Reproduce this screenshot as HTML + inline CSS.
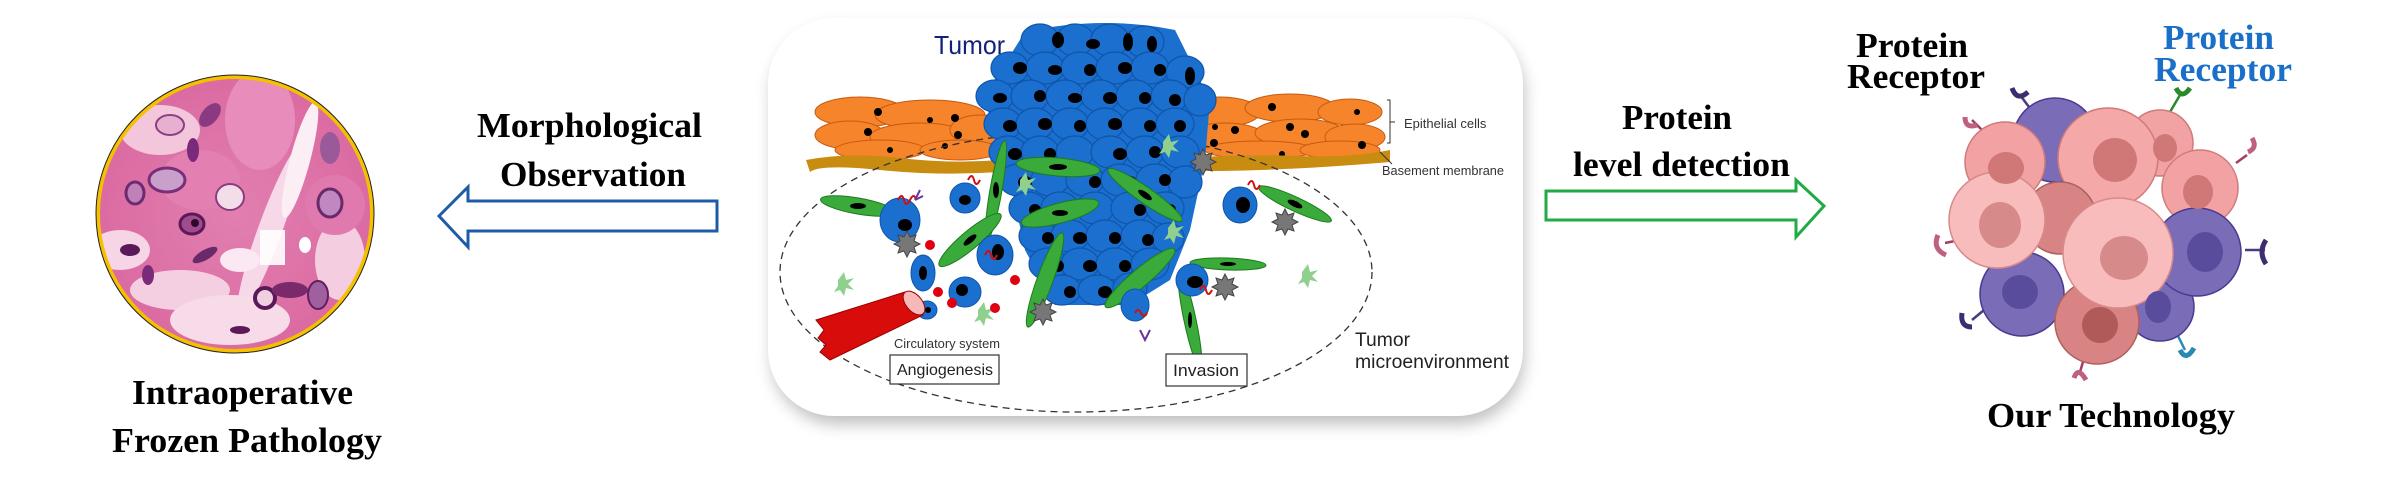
<!DOCTYPE html>
<html><head><meta charset="utf-8"><style>
html,body{margin:0;padding:0;background:#fff;}
svg{display:block;}
.tb{font-family:"Liberation Serif",serif;font-weight:bold;font-size:35px;}
.sa{font-family:"Liberation Sans",sans-serif;}
</style></head><body>
<svg width="2400" height="485" viewBox="0 0 2400 485" xmlns="http://www.w3.org/2000/svg">
<defs>
<clipPath id="hc"><circle cx="235" cy="214" r="136"/></clipPath>
<filter id="sh" x="-10%" y="-10%" width="120%" height="130%"><feGaussianBlur stdDeviation="8"/></filter>
<radialGradient id="hg" cx="50%" cy="50%" r="60%"><stop offset="0" stop-color="#e27fb0"/><stop offset="1" stop-color="#d9679f"/></radialGradient>
</defs>

<!-- Histology circle -->
<circle cx="235" cy="214" r="138" fill="url(#hg)"/>
<g clip-path="url(#hc)">
<ellipse cx="160" cy="130" rx="40" ry="25" fill="#f3c6dc"/>
<ellipse cx="260" cy="120" rx="35" ry="50" fill="#e78cbb"/>
<ellipse cx="270" cy="230" rx="12" ry="90" fill="#f6d8e8" transform="rotate(20 270 230)"/>
<ellipse cx="300" cy="160" rx="10" ry="60" fill="#fbeef5" transform="rotate(15 300 160)"/>
<ellipse cx="180" cy="290" rx="50" ry="20" fill="#f4cfe2"/>
<ellipse cx="230" cy="320" rx="60" ry="25" fill="#f7dbe9"/>
<ellipse cx="120" cy="250" rx="30" ry="20" fill="#f6d6e6"/>
<ellipse cx="340" cy="260" rx="25" ry="40" fill="#f4cde0"/>
<ellipse cx="200" cy="180" rx="40" ry="30" fill="#e47fb2"/>
<ellipse cx="335" cy="205" rx="30" ry="30" fill="#e07aae"/>
<rect x="260" y="230" width="25" height="35" fill="#fff" opacity=".9"/>
<ellipse cx="167" cy="180" rx="18" ry="12" fill="#c9a0c9" stroke="#7a2e7a" stroke-width="3"/>
<ellipse cx="135" cy="193" rx="9" ry="11" fill="#c080b8" stroke="#6e2a6e" stroke-width="3"/>
<ellipse cx="230" cy="197" rx="14" ry="13" fill="#f2dde9" stroke="#8a3d80" stroke-width="2"/>
<ellipse cx="192" cy="224" rx="12" ry="10" fill="#a14a90" stroke="#5a1a5a" stroke-width="3"/>
<circle cx="195" cy="223" r="4" fill="#2a0a2a"/>
<ellipse cx="330" cy="203" rx="12" ry="14" fill="#c088c0" stroke="#6a2a6a" stroke-width="3"/>
<ellipse cx="330" cy="148" rx="10" ry="16" fill="#9a5a9a"/>
<ellipse cx="210" cy="115" rx="14" ry="8" fill="#8a3a80" transform="rotate(-50 210 115)"/>
<ellipse cx="170" cy="125" rx="14" ry="10" fill="#e8b0d0" stroke="#8a4080" stroke-width="2"/>
<ellipse cx="265" cy="298" rx="10" ry="10" fill="#f0d0e0" stroke="#5a1a5a" stroke-width="4"/>
<ellipse cx="290" cy="290" rx="18" ry="8" fill="#7a2a6a"/>
<ellipse cx="318" cy="295" rx="10" ry="14" fill="#a060a0" stroke="#602060" stroke-width="2"/>
<ellipse cx="130" cy="250" rx="10" ry="6" fill="#5a1a5a"/>
<ellipse cx="205" cy="255" rx="14" ry="5" fill="#6a2a6a" transform="rotate(-30 205 255)"/>
<ellipse cx="240" cy="330" rx="10" ry="4" fill="#5a1a5a"/>
<ellipse cx="148" cy="275" rx="6" ry="10" fill="#7a2a7a"/>
<ellipse cx="193" cy="150" rx="6" ry="12" fill="#7a2a7a"/>
<ellipse cx="305" cy="245" rx="6" ry="8" fill="#fff"/>
<ellipse cx="240" cy="260" rx="20" ry="12" fill="#fbe8f2"/>
</g>
<circle cx="235" cy="214" r="137" fill="none" stroke="#f4c000" stroke-width="4"/>
<circle cx="235" cy="214" r="139" fill="none" stroke="#222" stroke-width="1"/>

<text class="tb" x="477" y="137" textLength="225" lengthAdjust="spacingAndGlyphs">Morphological</text>
<text class="tb" x="500" y="186" textLength="186" lengthAdjust="spacingAndGlyphs">Observation</text>
<path d="M439 216 L468 187 L468 201 L717 201 L717 231 L468 231 L468 247 Z" fill="#fff" stroke="#1f5ca6" stroke-width="3" stroke-linejoin="miter"/>
<text class="tb" x="132" y="404" textLength="221" lengthAdjust="spacingAndGlyphs">Intraoperative</text>
<text class="tb" x="112" y="452" textLength="270" lengthAdjust="spacingAndGlyphs">Frozen Pathology</text>

<!-- Center box -->
<rect x="772" y="28" width="752" height="396" rx="66" fill="#888" opacity=".55" filter="url(#sh)"/>
<rect x="768" y="18" width="755" height="398" rx="66" fill="#fff"/>

<!-- orange epithelium -->
<g fill="#f5842a" stroke="#c85a10" stroke-width="1">
<ellipse cx="860" cy="112" rx="45" ry="15"/><ellipse cx="930" cy="115" rx="55" ry="15"/>
<ellipse cx="850" cy="135" rx="35" ry="14"/><ellipse cx="920" cy="137" rx="50" ry="14"/><ellipse cx="980" cy="130" rx="30" ry="15"/>
<ellipse cx="880" cy="150" rx="45" ry="10"/><ellipse cx="960" cy="150" rx="40" ry="10"/>
<ellipse cx="1220" cy="112" rx="40" ry="15"/><ellipse cx="1290" cy="108" rx="45" ry="14"/><ellipse cx="1350" cy="112" rx="32" ry="13"/>
<ellipse cx="1225" cy="137" rx="40" ry="14"/><ellipse cx="1300" cy="133" rx="45" ry="14"/><ellipse cx="1355" cy="137" rx="30" ry="13"/>
<ellipse cx="1260" cy="150" rx="55" ry="9"/><ellipse cx="1340" cy="150" rx="40" ry="9"/>
</g>
<g fill="#000">
<circle cx="878" cy="112" r="4"/><circle cx="930" cy="120" r="3"/><circle cx="955" cy="118" r="4"/><circle cx="868" cy="132" r="4"/><circle cx="958" cy="135" r="4"/><circle cx="890" cy="150" r="3"/><circle cx="945" cy="146" r="3"/>
<circle cx="1272" cy="107" r="4"/><circle cx="1235" cy="130" r="4"/><circle cx="1290" cy="127" r="4"/><circle cx="1305" cy="134" r="4"/><circle cx="1357" cy="112" r="3"/><circle cx="1362" cy="145" r="4"/><circle cx="1282" cy="154" r="3"/><circle cx="1215" cy="127" r="3"/><circle cx="1214" cy="143" r="4"/>
</g>
<path d="M806 160 Q850 152 900 158 T1000 160 L1000 172 Q940 176 880 170 T810 172 Z" fill="#c88c10"/>
<path d="M1180 158 Q1250 154 1300 156 T1390 150 L1390 162 Q1320 168 1260 170 T1180 170 Z" fill="#c88c10"/>

<!-- dashed ellipse -->
<ellipse cx="1076" cy="272" rx="296" ry="140" fill="none" stroke="#333" stroke-width="1.3" stroke-dasharray="7 5"/>

<!-- tumor mass -->
<path d="M1025 32 Q1100 15 1175 30 L1210 100 L1205 160 L1190 230 L1170 280 L1130 305 L1055 305 L1025 250 L1010 180 L990 120 L985 95 Z" fill="#1a6fcf"/>
<g fill="#1a6fcf" stroke="#0f55a8" stroke-width="1.2">
<ellipse cx="1040" cy="40" rx="19" ry="16"/><ellipse cx="1075" cy="40" rx="19" ry="16"/><ellipse cx="1110" cy="40" rx="19" ry="16"/><ellipse cx="1145" cy="42" rx="19" ry="16"/>
<ellipse cx="1010" cy="68" rx="19" ry="16"/><ellipse cx="1045" cy="68" rx="19" ry="16"/><ellipse cx="1080" cy="68" rx="19" ry="16"/><ellipse cx="1115" cy="68" rx="19" ry="16"/><ellipse cx="1150" cy="68" rx="19" ry="16"/><ellipse cx="1185" cy="72" rx="19" ry="16"/>
<ellipse cx="995" cy="96" rx="19" ry="16"/><ellipse cx="1030" cy="96" rx="19" ry="16"/><ellipse cx="1065" cy="96" rx="19" ry="16"/><ellipse cx="1100" cy="96" rx="19" ry="16"/><ellipse cx="1135" cy="96" rx="19" ry="16"/><ellipse cx="1170" cy="96" rx="19" ry="16"/><ellipse cx="1200" cy="100" rx="16" ry="16"/>
<ellipse cx="1003" cy="124" rx="19" ry="16"/><ellipse cx="1035" cy="124" rx="19" ry="16"/><ellipse cx="1070" cy="124" rx="19" ry="16"/><ellipse cx="1105" cy="124" rx="19" ry="16"/><ellipse cx="1140" cy="124" rx="19" ry="16"/><ellipse cx="1175" cy="124" rx="19" ry="16"/>
<ellipse cx="1008" cy="152" rx="19" ry="16"/><ellipse cx="1040" cy="152" rx="19" ry="16"/><ellipse cx="1075" cy="152" rx="19" ry="16"/><ellipse cx="1110" cy="152" rx="19" ry="16"/><ellipse cx="1145" cy="152" rx="19" ry="16"/><ellipse cx="1180" cy="152" rx="19" ry="16"/>
<ellipse cx="1018" cy="180" rx="19" ry="16"/><ellipse cx="1050" cy="180" rx="19" ry="16"/><ellipse cx="1085" cy="180" rx="19" ry="16"/><ellipse cx="1120" cy="180" rx="19" ry="16"/><ellipse cx="1155" cy="180" rx="19" ry="16"/><ellipse cx="1185" cy="182" rx="17" ry="16"/>
<ellipse cx="1028" cy="208" rx="19" ry="16"/><ellipse cx="1060" cy="208" rx="19" ry="16"/><ellipse cx="1095" cy="208" rx="19" ry="16"/><ellipse cx="1130" cy="208" rx="19" ry="16"/><ellipse cx="1165" cy="208" rx="19" ry="16"/>
<ellipse cx="1038" cy="236" rx="19" ry="16"/><ellipse cx="1070" cy="236" rx="19" ry="16"/><ellipse cx="1105" cy="236" rx="19" ry="16"/><ellipse cx="1140" cy="236" rx="19" ry="16"/><ellipse cx="1168" cy="238" rx="16" ry="15"/>
<ellipse cx="1048" cy="264" rx="19" ry="16"/><ellipse cx="1080" cy="264" rx="19" ry="16"/><ellipse cx="1115" cy="264" rx="19" ry="16"/><ellipse cx="1150" cy="264" rx="19" ry="16"/>
<ellipse cx="1062" cy="290" rx="19" ry="15"/><ellipse cx="1097" cy="290" rx="19" ry="15"/><ellipse cx="1130" cy="288" rx="17" ry="15"/>
</g>
<g fill="#000">
<ellipse cx="1058" cy="40" rx="6" ry="8"/><ellipse cx="1093" cy="44" rx="7" ry="5"/><ellipse cx="1128" cy="42" rx="5" ry="9"/><ellipse cx="1152" cy="44" rx="5" ry="8"/>
<ellipse cx="1020" cy="68" rx="7" ry="6"/><ellipse cx="1055" cy="70" rx="7" ry="5"/><ellipse cx="1090" cy="70" rx="6" ry="6"/><ellipse cx="1125" cy="68" rx="7" ry="6"/><ellipse cx="1160" cy="70" rx="6" ry="6"/><ellipse cx="1190" cy="76" rx="5" ry="9"/>
<ellipse cx="1000" cy="98" rx="7" ry="5"/><ellipse cx="1040" cy="96" rx="6" ry="6"/><ellipse cx="1075" cy="98" rx="7" ry="5"/><ellipse cx="1110" cy="98" rx="7" ry="6"/><ellipse cx="1145" cy="98" rx="6" ry="6"/><ellipse cx="1175" cy="100" rx="6" ry="6"/>
<ellipse cx="1010" cy="126" rx="7" ry="6"/><ellipse cx="1045" cy="124" rx="7" ry="6"/><ellipse cx="1080" cy="126" rx="6" ry="6"/><ellipse cx="1115" cy="124" rx="7" ry="6"/><ellipse cx="1150" cy="126" rx="6" ry="6"/><ellipse cx="1180" cy="126" rx="6" ry="6"/>
<ellipse cx="1015" cy="154" rx="7" ry="6"/><ellipse cx="1050" cy="154" rx="6" ry="6"/><ellipse cx="1120" cy="154" rx="7" ry="6"/><ellipse cx="1155" cy="152" rx="6" ry="6"/>
<ellipse cx="1025" cy="182" rx="7" ry="6"/><ellipse cx="1095" cy="182" rx="6" ry="6"/><ellipse cx="1130" cy="182" rx="7" ry="6"/><ellipse cx="1165" cy="180" rx="6" ry="6"/>
<ellipse cx="1035" cy="210" rx="6" ry="6"/><ellipse cx="1070" cy="210" rx="7" ry="6"/><ellipse cx="1140" cy="210" rx="6" ry="6"/><ellipse cx="1170" cy="210" rx="6" ry="6"/>
<ellipse cx="1048" cy="238" rx="6" ry="6"/><ellipse cx="1080" cy="238" rx="7" ry="6"/><ellipse cx="1115" cy="238" rx="6" ry="6"/><ellipse cx="1148" cy="240" rx="6" ry="6"/>
<ellipse cx="1058" cy="266" rx="6" ry="6"/><ellipse cx="1090" cy="266" rx="7" ry="6"/><ellipse cx="1125" cy="266" rx="6" ry="6"/>
<ellipse cx="1070" cy="292" rx="6" ry="6"/><ellipse cx="1105" cy="292" rx="7" ry="6"/>
</g>

<!-- green spindle cells -->
<g fill="#3aaa3a" stroke="#1d7a1d" stroke-width="1">
<ellipse cx="1058" cy="167" rx="42" ry="9" transform="rotate(5 1058 167)"/>
<ellipse cx="996" cy="190" rx="50" ry="6" transform="rotate(-80 996 190)"/>
<ellipse cx="1145" cy="195" rx="45" ry="8" transform="rotate(35 1145 195)"/>
<ellipse cx="1060" cy="213" rx="40" ry="10" transform="rotate(-15 1060 213)"/>
<ellipse cx="970" cy="240" rx="40" ry="9" transform="rotate(-40 970 240)"/>
<ellipse cx="1045" cy="280" rx="50" ry="8" transform="rotate(-70 1045 280)"/>
<ellipse cx="858" cy="206" rx="38" ry="8" transform="rotate(10 858 206)"/>
<ellipse cx="1295" cy="204" rx="40" ry="7" transform="rotate(25 1295 204)"/>
<ellipse cx="1140" cy="278" rx="45" ry="9" transform="rotate(-40 1140 278)"/>
<ellipse cx="1228" cy="264" rx="38" ry="6" transform="rotate(2 1228 264)"/>
<ellipse cx="1190" cy="320" rx="50" ry="6" transform="rotate(78 1190 320)"/>
</g>
<g fill="#000"><ellipse cx="1058" cy="167" rx="9" ry="3"/><ellipse cx="996" cy="190" rx="3" ry="8"/><ellipse cx="1145" cy="195" rx="8" ry="3" transform="rotate(35 1145 195)"/><ellipse cx="1060" cy="213" rx="8" ry="3"/><ellipse cx="970" cy="240" rx="8" ry="3" transform="rotate(-40 970 240)"/><ellipse cx="858" cy="206" rx="8" ry="3"/><ellipse cx="1295" cy="204" rx="8" ry="3" transform="rotate(25 1295 204)"/><ellipse cx="1228" cy="264" rx="8" ry="2"/><ellipse cx="1190" cy="320" rx="2" ry="8"/></g>

<!-- blue loose tumor cells -->
<g fill="#1a6fcf" stroke="#0f55a8">
<ellipse cx="965" cy="198" rx="15" ry="15"/><ellipse cx="900" cy="220" rx="20" ry="22"/><ellipse cx="995" cy="255" rx="18" ry="20"/>
<ellipse cx="923" cy="273" rx="12" ry="18"/><ellipse cx="965" cy="292" rx="16" ry="15"/><ellipse cx="927" cy="310" rx="10" ry="9"/>
<ellipse cx="1240" cy="205" rx="17" ry="18"/><ellipse cx="1192" cy="280" rx="16" ry="16"/><ellipse cx="1135" cy="305" rx="14" ry="16"/>
</g>
<g fill="#000"><ellipse cx="905" cy="225" rx="7" ry="6"/><ellipse cx="965" cy="200" rx="6" ry="5"/><ellipse cx="998" cy="252" rx="6" ry="8"/><ellipse cx="923" cy="273" rx="4" ry="7"/><ellipse cx="962" cy="290" rx="6" ry="6"/><ellipse cx="1243" cy="205" rx="7" ry="8"/><ellipse cx="1195" cy="282" rx="8" ry="6"/><ellipse cx="928" cy="310" rx="3" ry="3"/></g>
<g fill="none" stroke-width="2"><path d="M898 200 q4-8 6 0 t6 0 t6 0" stroke="#d01010"/><path d="M968 180 q4-8 6 0 t6 0" stroke="#d01010"/><path d="M985 255 q4-8 6 0 t6 0" stroke="#d01010"/><path d="M1200 290 q4-8 6 0 t6 0" stroke="#d01010"/><path d="M1135 313 q3-6 6 0 t6 0" stroke="#d01010"/><path d="M1248 185 q4-8 6 0 t6 0" stroke="#d01010"/><path d="M915 200 l5 -10 m-5 10 l8 -4" stroke="#7030a0"/><path d="M1140 330 l5 10 l5 -10" stroke="#7030a0"/></g>

<!-- gray stars -->
<g fill="#777" stroke="#444" stroke-width="1">
<path d="M904 237 l3 -6 3 6 6 -2 -2 6 6 3 -6 3 2 6 -6 -2 -3 6 -3 -6 -6 2 2 -6 -6 -3 6 -3 -2 -6 z"/>
<path d="M1200 155 l3 -6 3 6 6 -2 -2 6 6 3 -6 3 2 6 -6 -2 -3 6 -3 -6 -6 2 2 -6 -6 -3 6 -3 -2 -6 z"/>
<path d="M1282 215 l3 -6 3 6 6 -2 -2 6 6 3 -6 3 2 6 -6 -2 -3 6 -3 -6 -6 2 2 -6 -6 -3 6 -3 -2 -6 z"/>
<path d="M1040 305 l3 -6 3 6 6 -2 -2 6 6 3 -6 3 2 6 -6 -2 -3 6 -3 -6 -6 2 2 -6 -6 -3 6 -3 -2 -6 z"/>
<path d="M1222 280 l3 -6 3 6 6 -2 -2 6 6 3 -6 3 2 6 -6 -2 -3 6 -3 -6 -6 2 2 -6 -6 -3 6 -3 -2 -6 z"/>
</g>
<g fill="#8fd08f"><path d="M838 280 l6 -8 2 8 8 -2 -6 6 6 6 -8 -2 -2 8 -4 -6 -6 2 4 -6z"/><path d="M1302 272 l6 -8 2 8 8 -2 -6 6 6 6 -8 -2 -2 8 -4 -6 -6 2 4 -6z"/><path d="M1020 180 l6 -8 2 8 8 -2 -6 6 6 6 -8 -2 -2 8 -4 -6 -6 2 4 -6z"/><path d="M1163 142 l6 -8 2 8 8 -2 -6 6 6 6 -8 -2 -2 8 -4 -6 -6 2 4 -6z"/><path d="M978 310 l6 -8 2 8 8 -2 -6 6 6 6 -8 -2 -2 8 -4 -6 -6 2 4 -6z"/><path d="M1168 228 l6 -8 2 8 8 -2 -6 6 6 6 -8 -2 -2 8 -4 -6 -6 2 4 -6z"/></g>
<g fill="#e00010"><circle cx="930" cy="245" r="5"/><circle cx="938" cy="292" r="5"/><circle cx="952" cy="303" r="5"/><circle cx="1015" cy="280" r="5"/><circle cx="995" cy="308" r="5"/><circle cx="900" cy="320" r="4"/></g>
<!-- vessel -->
<path d="M816 320 L905 292 L923 315 L830 360 L820 352 L826 345 L818 338 L824 330 Z" fill="#d90c0c" stroke="#900" stroke-width="1"/>
<ellipse cx="914" cy="303" rx="8" ry="14" transform="rotate(-40 914 303)" fill="#f8b8b8" stroke="#900"/>

<text class="sa" x="934" y="54" font-size="26" fill="#14217a" textLength="71" lengthAdjust="spacingAndGlyphs">Tumor</text>
<path d="M1387 100 h3 v43 h-3 M1390 122 h5" fill="none" stroke="#333" stroke-width="1"/>
<text class="sa" x="1404" y="128" font-size="13" fill="#333">Epithelial cells</text>
<path d="M1380 152 l12 12" stroke="#333" stroke-width="1"/>
<text class="sa" x="1382" y="175" font-size="13" fill="#333" textLength="122" lengthAdjust="spacingAndGlyphs">Basement membrane</text>
<text class="sa" x="894" y="348" font-size="13" fill="#333" textLength="106" lengthAdjust="spacingAndGlyphs">Circulatory system</text>
<rect x="890" y="355" width="109" height="29" fill="#fff" stroke="#333" stroke-width="1.2"/>
<text class="sa" x="897" y="375" font-size="16" fill="#222" textLength="96" lengthAdjust="spacingAndGlyphs">Angiogenesis</text>
<rect x="1166" y="354" width="81" height="32" fill="#fff" stroke="#333" stroke-width="1.2"/>
<text class="sa" x="1173" y="376" font-size="17" fill="#222" textLength="66" lengthAdjust="spacingAndGlyphs">Invasion</text>
<text class="sa" x="1355" y="346" font-size="19" fill="#222" textLength="55" lengthAdjust="spacingAndGlyphs">Tumor</text>
<text class="sa" x="1355" y="368" font-size="19" fill="#222" textLength="154" lengthAdjust="spacingAndGlyphs">microenvironment</text>

<!-- green arrow -->
<path d="M1546 191 L1796 191 L1796 180 L1824 206 L1796 237 L1796 220 L1546 220 Z" fill="#fff" stroke="#22aa44" stroke-width="3"/>
<text class="tb" x="1622" y="129" textLength="110" lengthAdjust="spacingAndGlyphs">Protein</text>
<text class="tb" x="1573" y="176" textLength="217" lengthAdjust="spacingAndGlyphs">level detection</text>

<text class="tb" x="1856" y="57" textLength="112" lengthAdjust="spacingAndGlyphs">Protein</text>
<text class="tb" x="1847" y="88" textLength="138" lengthAdjust="spacingAndGlyphs">Receptor</text>
<text class="tb" x="2163" y="49" fill="#1a6fc9" textLength="111" lengthAdjust="spacingAndGlyphs">Protein</text>
<text class="tb" x="2154" y="81" fill="#1a6fc9" textLength="138" lengthAdjust="spacingAndGlyphs">Receptor</text>

<!-- receptors -->
<g fill="none" stroke-width="2.5">
<path d="M2035 115 L2020 95" stroke="#4a3a80"/><path d="M2012 88 q5 14 16 4" stroke="#3d2d70" stroke-width="5"/>
<path d="M2170 112 L2180 95" stroke="#2a8a2a"/><path d="M2176 88 q6 12 14 0" stroke="#2a8a2a" stroke-width="5"/>
<path d="M1982 130 L1972 120" stroke="#a04060"/><path d="M1965 117 q0 12 12 8" stroke="#c06080" stroke-width="5"/>
<path d="M2236 163 L2247 155" stroke="#a04060"/><path d="M2248 152 q10 -4 4 -14" stroke="#c06080" stroke-width="5"/>
<path d="M1960 240 L1945 243" stroke="#a04060"/><path d="M1938 235 q-6 14 8 20" stroke="#c06080" stroke-width="5"/>
<path d="M2245 250 L2265 250" stroke="#4a3a80"/><path d="M2266 240 q-8 12 0 24" stroke="#3d2d70" stroke-width="5"/>
<path d="M1990 305 L1972 320" stroke="#4a3a80"/><path d="M1962 313 q-2 14 10 14" stroke="#3d2d70" stroke-width="5"/>
<path d="M2175 330 L2185 350" stroke="#2a8ab0"/><path d="M2180 350 q6 12 14 -2" stroke="#2a8ab0" stroke-width="5"/>
<path d="M2085 355 L2080 372" stroke="#a04060"/><path d="M2074 378 q4 -12 12 2" stroke="#c06080" stroke-width="5"/>
</g>
<!-- cells -->
<g stroke-width="1.5">
<circle cx="2055" cy="140" r="42" fill="#7b6cb8" stroke="#4a3a90"/>
<circle cx="2160" cy="307" r="34" fill="#7b6cb8" stroke="#4a3a90"/>
<circle cx="2005" cy="162" r="40" fill="#f2a2a2" stroke="#d07a7a"/>
<circle cx="2160" cy="143" r="33" fill="#f2a2a2" stroke="#d07a7a"/>
<circle cx="2108" cy="158" r="50" fill="#f4a8a8" stroke="#d07a7a"/>
<circle cx="2200" cy="188" r="38" fill="#f2a2a2" stroke="#d07a7a"/>
<circle cx="2060" cy="218" r="36" fill="#d88484" stroke="#b06060"/>
<circle cx="2197" cy="252" r="44" fill="#7b6cb8" stroke="#4a3a90"/>
<circle cx="2022" cy="294" r="42" fill="#7b6cb8" stroke="#4a3a90"/>
<circle cx="2097" cy="322" r="42" fill="#d88484" stroke="#b06060"/>
<circle cx="1997" cy="220" r="48" fill="#f9bcbc" stroke="#d88a8a"/>
<circle cx="2118" cy="253" r="55" fill="#f9bcbc" stroke="#d88a8a"/>
</g>
<g>
<ellipse cx="2006" cy="168" rx="18" ry="16" fill="#d07878"/>
<ellipse cx="2115" cy="160" rx="22" ry="22" fill="#d07878"/>
<ellipse cx="2165" cy="148" rx="12" ry="14" fill="#d07878"/>
<ellipse cx="2198" cy="192" rx="15" ry="17" fill="#d07878"/>
<ellipse cx="2000" cy="225" rx="21" ry="23" fill="#d78a8a"/>
<ellipse cx="2124" cy="258" rx="24" ry="22" fill="#d78a8a"/>
<ellipse cx="2205" cy="252" rx="18" ry="20" fill="#5a4c9c"/>
<ellipse cx="2020" cy="292" rx="18" ry="17" fill="#5a4c9c"/>
<ellipse cx="2100" cy="325" rx="18" ry="18" fill="#b05a5a"/>
<ellipse cx="2158" cy="307" rx="13" ry="16" fill="#5a4c9c"/>
</g>
<text class="tb" x="1987" y="427" textLength="248" lengthAdjust="spacingAndGlyphs">Our Technology</text>
</svg>
</body></html>
